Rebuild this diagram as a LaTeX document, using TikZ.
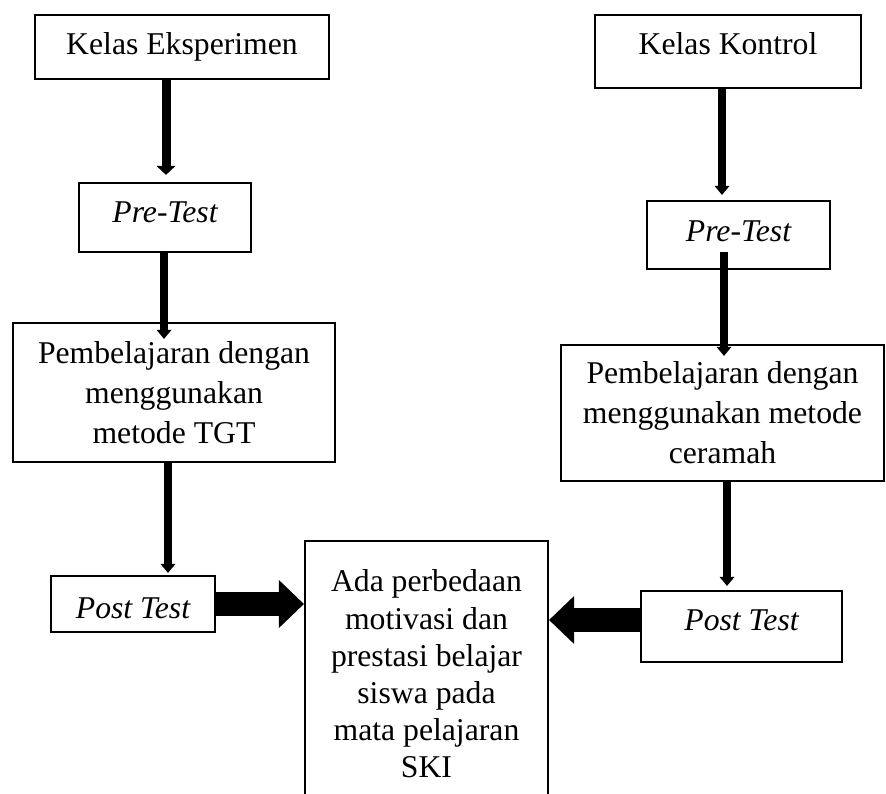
\documentclass[tikz,border=0pt]{standalone}
\usepackage{fontspec}
\setmainfont{Liberation Serif}
\usetikzlibrary{arrows.meta}
\begin{document}
\begin{tikzpicture}[x=1pt,y=-1pt,
  box/.style={draw, line width=2.2pt, inner sep=0pt, font=\fontsize{31.7}{40}\selectfont},
  mbox/.style={box, align=center},
  arrbig/.style={line width=9pt, -{Triangle[width=19pt,length=9pt,line width=0pt]}},
  arr/.style={line width=8pt, -{Triangle[width=15pt,length=9pt,line width=0pt]}},
  blockarr/.style={line width=24pt, -{Triangle[width=48pt,length=25pt,line width=0pt]}}]
\useasboundingbox (0,0) rectangle (886,794);
\clip (0,0) rectangle (886,794);
% left column
\node[box, anchor=base, text height=40pt, text depth=24pt, minimum width=294pt] (kelasE) at (182,55) {Kelas Eksperimen};
\node[box, anchor=base, text height=40pt, text depth=29pt, minimum width=172pt] (preE) at (165,223) {\itshape Pre-Test};
\node[mbox, minimum width=322pt, minimum height=139pt] (tgt) at (174,392.5) {Pembelajaran dengan\\menggunakan\\metode TGT};
\node[box, anchor=base, text height=42pt, text depth=14pt, minimum width=164pt] (postE) at (133,618) {\itshape Post Test};
% right column
\node[box, anchor=base, text height=40pt, text depth=33pt, minimum width=266pt] (kelasK) at (728,55) {Kelas Kontrol};
\node[box, anchor=base, text height=41pt, text depth=27pt, minimum width=183pt] (preK) at (738.5,242) {\itshape Pre-Test};
\node[mbox, minimum width=323pt, minimum height=136pt] (cer) at (722.5,413) {Pembelajaran dengan\\menggunakan metode\\ceramah};
\node[box, anchor=base, text height=39pt, text depth=32pt, minimum width=201pt] (postK) at (741.5,630) {\itshape Post Test};
% result
\node[mbox, minimum width=243pt, minimum height=266pt, font=\fontsize{31.7}{37.2}\selectfont] (hasil) at (426.5,674) {Ada perbedaan\\motivasi dan\\prestasi belajar\\siswa pada\\mata pelajaran\\SKI};
% connectors
\draw[arrbig, shorten >=7pt] (166,0 |- kelasE.south) -- (166,0 |- preE.north);
\draw[arr, shorten >=-17pt] (164,0 |- preE.south) -- (164,0 |- tgt.north);
\draw[arr, shorten >=2pt] (168,0 |- tgt.south) -- (168,0 |- postE.north);
\draw[arr, shorten >=5pt] (722,0 |- kelasK.south) -- (722,0 |- preK.north);
\draw[arr, shorten <=-18pt, shorten >=-12pt] (724,0 |- preK.south) -- (724,0 |- cer.north);
\draw[arr, shorten >=4pt] (727,0 |- cer.south) -- (727,0 |- postK.north);
\draw[blockarr] (postE.east) -- (postE.east -| hasil.west);
\draw[blockarr] ([yshift=6.5pt]postK.west) -- ([yshift=6.5pt]postK.west -| hasil.east);
\end{tikzpicture}
\end{document}
